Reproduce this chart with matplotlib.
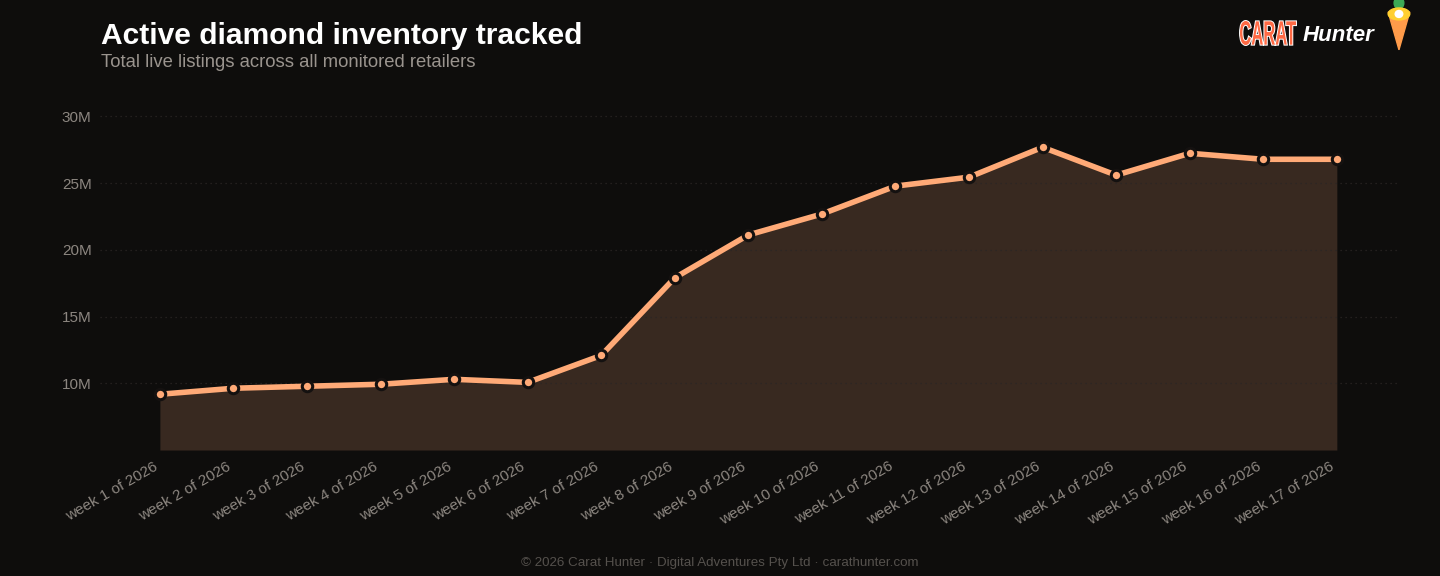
import matplotlib
matplotlib.use("Agg")
import matplotlib.pyplot as plt
from matplotlib.patches import Polygon, Ellipse, Circle, PathPatch
from matplotlib.textpath import TextPath
from matplotlib.font_manager import FontProperties
from matplotlib.transforms import ScaledTranslation, Affine2D

plt.rcParams['font.family'] = ['Liberation Sans', 'DejaVu Sans']

weeks = ['week %d of 2026' % i for i in range(1, 18)]
listings_m = [9.18, 9.63, 9.78, 9.93, 10.30, 10.07, 12.09, 17.91, 21.12,
              22.69, 24.78, 25.45, 27.69, 25.60, 27.24, 26.79, 26.79]
yticks = [10, 15, 20, 25, 30]
ytick_labels = ['10M', '15M', '20M', '25M', '30M']

bg = '#0e0d0c'
line_c = '#ffaa77'
fill_c = '#382920'
tick_c = '#8c8680'

fig = plt.figure(figsize=(14.4, 5.76), dpi=100, facecolor=bg)
ax = fig.add_axes([0.0694, 0.2187, 0.9006, 0.6023], facecolor=bg)

x = list(range(len(weeks)))
ax.fill_between(x, listings_m, 5, color=fill_c, lw=0, zorder=1)
ax.plot(x, listings_m, color=line_c, lw=4, zorder=3, solid_capstyle='round')
ax.plot(x, listings_m, 'o', ms=7.5, mfc=line_c, mec='#141110', mew=2.2, zorder=4)

ax.set_xlim(-0.815, 16.815)
ax.set_ylim(5, 31)
ax.set_yticks(yticks)
ax.set_yticklabels(ytick_labels)
ax.set_xticks(x)
ax.set_xticklabels(weeks, rotation=30, ha='right', rotation_mode='anchor')
ax.tick_params(axis='both', length=0, colors=tick_c, labelsize=11)
ax.tick_params(axis='y', pad=6)
ax.tick_params(axis='x', pad=6)
shift = ScaledTranslation(-7 / 100, -1 / 100, fig.dpi_scale_trans)
for lbl in ax.get_xticklabels():
    lbl.set_transform(lbl.get_transform() + shift)
for s in ax.spines.values():
    s.set_visible(False)
ax.grid(axis='y', color='#2a2624', ls=(0, (1, 3)), lw=0.9, zorder=0)
ax.grid(axis='x', visible=False)

fig.text(0.0701, 0.938, 'Active diamond inventory tracked', color='white',
         fontsize=21.6, fontweight='bold', va='center')
fig.text(0.0701, 0.892, 'Total live listings across all monitored retailers',
         color='#9a948e', fontsize=13.3, va='center')
fig.text(0.5, 0.022, '\u00a9 2026 Carat Hunter \u00b7 Digital Adventures Pty Ltd \u00b7 carathunter.com',
         color='#55514d', fontsize=9.6, ha='center', va='center')

# logo: condensed "CARAT" drawn as a scaled text path (pixel coords)
tp = TextPath((0, 0), 'CARAT', size=25, prop=FontProperties(family='Liberation Sans', weight='bold'))
ext = tp.get_extents()
path = Affine2D().translate(-ext.x0, -ext.y0).scale(56 / ext.width, 24 / ext.height) \
    .translate(1240, 576 - 45).transform_path(tp)
fig.patches.append(PathPatch(path, facecolor='white', edgecolor='white', lw=1.4,
                             transform=None, zorder=5))
fig.patches.append(PathPatch(path, facecolor='#ff6a45', edgecolor='none',
                             transform=None, zorder=6))
fig.text(0.9045, 0.938, 'Hunter', color='white', fontsize=16, fontweight='bold',
         style='italic', va='center')
lax = fig.add_axes([0.9625, 0.91, 0.018, 0.09])
lax.set_xlim(0, 24)
lax.set_ylim(0, 52)
lax.axis('off')
lax.add_patch(Polygon([[2, 40], [22, 40], [12, 2]], closed=True, color='#ff9b4a'))
lax.add_patch(Ellipse((12, 49), 9, 12, color='#3daa55'))
lax.add_patch(Ellipse((12, 38), 20, 12, color='#ffcf2f'))
lax.add_patch(Circle((12, 38), 3.5, color='white'))

fig.savefig('out.png', dpi=100, facecolor=bg)
